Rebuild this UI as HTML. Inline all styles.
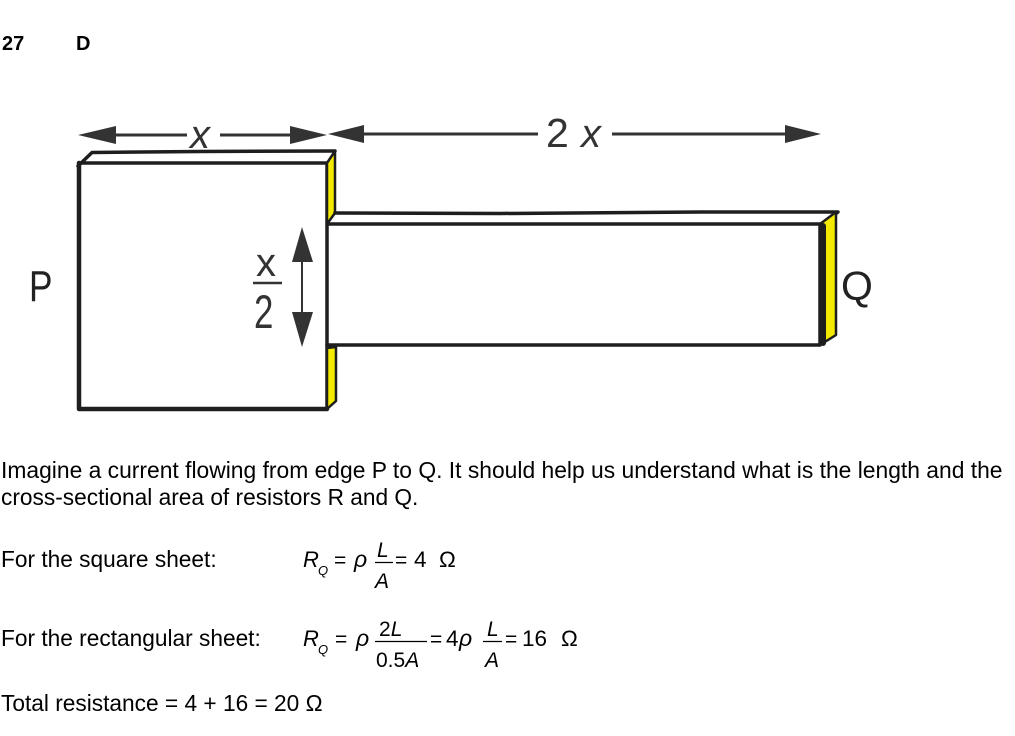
<!DOCTYPE html>
<html><head><meta charset="utf-8">
<style>
html,body{margin:0;padding:0;background:#fff;}
svg{display:block;}
text{font-family:"Liberation Sans",Arial,sans-serif;fill:#000;}
</style></head>
<body>
<svg width="1015" height="736" viewBox="0 0 1015 736" xmlns="http://www.w3.org/2000/svg">
<rect width="1015" height="736" fill="#fff"/>

<!-- header -->
<text x="2" y="50" font-size="20" font-weight="bold">27</text>
<text x="76" y="50" font-size="20" font-weight="bold">D</text>

<!-- ===== Diagram ===== -->
<g stroke="#1e1e1e" fill="none" stroke-linejoin="round" stroke-linecap="round">
  <!-- square front face -->
  <path d="M79 163 L79 409 L327 409" stroke-width="4.5"/>
  <path d="M80 163 L327 163" stroke-width="3.5"/>
  <path d="M327 163 L327 409" stroke-width="3.5"/>
  <!-- square top face -->
  <path d="M78 166 L92 152.5 L200 151.5 L335 151" stroke-width="3.5"/>
  <!-- square right face (yellow strips) -->
  <path d="M327 163 L335 151 L335 213 L327 224 Z" fill="#f3ea00" stroke-width="2.5"/>
  <path d="M327 348 L336 347 L336 401 L327 409 Z" fill="#f3ea00" stroke-width="2.5"/>

  <!-- rectangle front face -->
  <path d="M327 224 L820 224 L820 345 L327 345" stroke-width="3.5"/>
  <!-- rectangle top face -->
  <path d="M335 213 L500 213.5 L700 212 L838 212 L822 224" stroke-width="3.5"/>
  <!-- rectangle right face -->
  <path d="M820 224 L836 212 L836 335 L820 345 Z" fill="#f3ea00" stroke-width="2.5"/>
  <path d="M823 226 L823 343" stroke-width="6"/>
</g>

<!-- top dimension arrows -->
<g fill="#333" stroke="none">
  <polygon points="78,135 116,126 116,144"/>
  <polygon points="327,135 290,126 290,144"/>
  <polygon points="328,134 364,125 364,143"/>
  <polygon points="821,134 785,125 785,143"/>
  <!-- vertical arrow -->
  <polygon points="302,227 292,262 313,262"/>
  <polygon points="302,347 292,312 313,312"/>
</g>
<g stroke="#333" stroke-width="3" fill="none">
  <line x1="114" y1="135" x2="187" y2="135"/>
  <line x1="220" y1="135" x2="292" y2="135"/>
  <line x1="362" y1="134" x2="538" y2="134"/>
  <line x1="612" y1="134" x2="787" y2="134"/>
  <line x1="302" y1="258" x2="302" y2="316" stroke-width="2"/>
  <line x1="253" y1="283" x2="282" y2="283" stroke-width="2.5"/>
</g>
<text x="190" y="148" font-size="40" font-style="italic" style="fill:#333">x</text>
<text x="546" y="147" font-size="41" style="fill:#333">2</text>
<text x="581" y="147" font-size="40" font-style="italic" style="fill:#333">x</text>
<text x="256" y="276" font-size="40" style="fill:#333">x</text>
<text transform="translate(254,328) scale(0.85,1.15)" font-size="41" style="fill:#333">2</text>
<text transform="translate(29,301) scale(0.8,1)" font-size="44" style="fill:#222">P</text>
<text x="841" y="300" font-size="41" style="fill:#222">Q</text>

<!-- ===== Text ===== -->
<text x="1" y="478" font-size="22.85">Imagine a current flowing from edge P to Q. It should help us understand what is the length and the</text>
<text x="1" y="505" font-size="22.7">cross-sectional area of resistors R and Q.</text>

<text x="1" y="567" font-size="22.7">For the square sheet:</text>
<!-- equation 1 -->
<text x="303" y="567" font-size="22" font-style="italic">R</text>
<text x="318" y="575" font-size="13" font-style="italic">Q</text>
<text x="334" y="567" font-size="21">=</text>
<text x="354" y="567" font-size="23" font-style="italic">ρ</text>
<text x="377" y="557" font-size="21" font-style="italic">L</text>
<line x1="375" y1="562.5" x2="393" y2="562.5" stroke="#000" stroke-width="1.3"/>
<text x="375" y="588" font-size="21" font-style="italic">A</text>
<text x="395" y="567" font-size="21">=</text>
<text x="414" y="567" font-size="22.5">4</text>
<text x="439" y="567" font-size="22.5">Ω</text>

<text x="1" y="646" font-size="22.7">For the rectangular sheet:</text>
<!-- equation 2 -->
<text x="303" y="646" font-size="22" font-style="italic">R</text>
<text x="318" y="654" font-size="13" font-style="italic">Q</text>
<text x="335" y="646" font-size="21">=</text>
<text x="356" y="646" font-size="23" font-style="italic">ρ</text>
<text x="379" y="636" font-size="21">2<tspan font-style="italic">L</tspan></text>
<line x1="375" y1="641.5" x2="427" y2="641.5" stroke="#000" stroke-width="1.3"/>
<text x="376" y="667" font-size="21">0.5<tspan font-style="italic">A</tspan></text>
<text x="430" y="646" font-size="21">=</text>
<text x="446" y="646" font-size="22.5">4</text>
<text x="459" y="646" font-size="23" font-style="italic">ρ</text>
<text x="487" y="636" font-size="21" font-style="italic">L</text>
<line x1="483" y1="641.5" x2="502" y2="641.5" stroke="#000" stroke-width="1.3"/>
<text x="485" y="667" font-size="21" font-style="italic">A</text>
<text x="505" y="646" font-size="21">=</text>
<text x="522" y="646" font-size="22.5">16</text>
<text x="561" y="646" font-size="22.5">Ω</text>

<text x="1" y="711" font-size="22.7">Total resistance = 4 + 16 = 20 Ω</text>
</svg>
</body></html>
